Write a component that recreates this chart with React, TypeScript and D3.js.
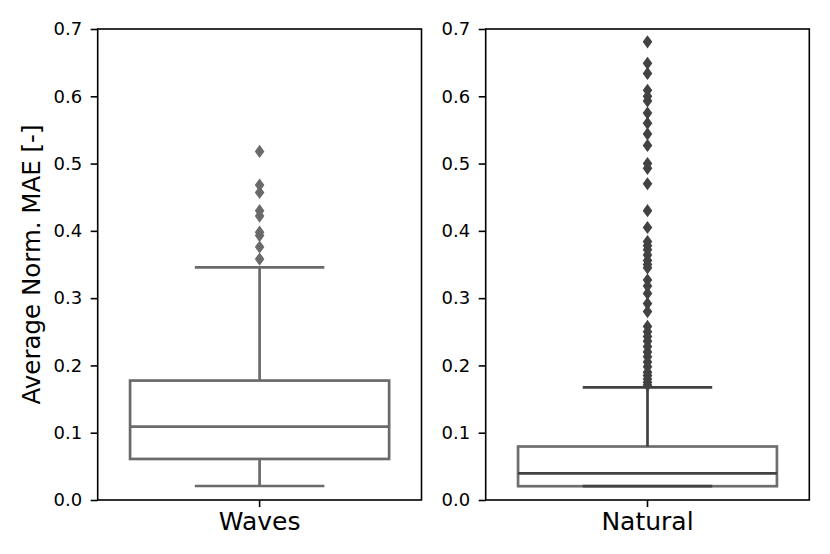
import React, { useEffect, useRef } from 'react';
import * as d3 from 'd3';

// Box statistics, one entry per panel
const categories = ['Waves', 'Natural'];
const q1 = [0.061, 0.0205];
const medians = [0.109, 0.0397];
const q3 = [0.1775, 0.0795];
const whiskerLow = [0.0208, 0.0205];
const whiskerHigh = [0.3457, 0.1675];

const wavesOutliers = [0.518, 0.468, 0.457, 0.430, 0.422, 0.398, 0.393, 0.376, 0.358];
const naturalOutliers = [
  0.681, 0.649, 0.634, 0.609, 0.600, 0.593, 0.575, 0.560, 0.544, 0.527,
  0.500, 0.493, 0.470, 0.430, 0.405, 0.384, 0.378, 0.372, 0.364, 0.356,
  0.350, 0.345, 0.327, 0.318, 0.307, 0.292, 0.280, 0.258, 0.250, 0.243,
  0.236, 0.228, 0.220, 0.213, 0.205, 0.198, 0.190, 0.185, 0.180, 0.175, 0.171,
];
const outliers = [wavesOutliers, naturalOutliers];

const yTicks = [0, 0.1, 0.2, 0.3, 0.4, 0.5, 0.6, 0.7];

// colours: Waves is mid grey, Natural darker (its box edge a bit lighter)
const lineColors = ['#6a6a6a', '#424242'];
const boxEdgeColors = ['#6a6a6a', '#6e6e6e'];

const W = 830;
const H = 554;
const FONT = '"DejaVu Sans", sans-serif';

const App: React.FC = () => {
  const svgRef = useRef<SVGSVGElement>(null);

  useEffect(() => {
    if (!svgRef.current) return;
    const svg = d3.select(svgRef.current);
    svg.selectAll('*').remove();

    const top = 29;
    const bottom = 500;
    const panels = [
      { left: 97.7, right: 421.5 },
      { left: 485.7, right: 809.3 },
    ];

    const y = d3.scaleLinear().domain([0, 0.7]).range([bottom, top]);

    // y label (only on the left panel)
    svg.append('text')
      .attr('transform', `translate(40,${(top + bottom) / 2}) rotate(-90)`)
      .attr('text-anchor', 'middle')
      .attr('font-family', FONT)
      .attr('font-size', 24.5)
      .attr('fill', '#000')
      .text('Average Norm. MAE [-]');

    panels.forEach((p, i) => {
      const g = svg.append('g');
      const x = d3.scaleBand().domain([categories[i]]).range([p.left, p.right]).padding(0);
      const cx = (x(categories[i]) as number) + x.bandwidth() / 2;
      const boxW = x.bandwidth() * 0.8;
      const capW = boxW / 2;
      const lc = lineColors[i];
      const lw = 2.7;

      // box
      g.append('rect')
        .attr('x', cx - boxW / 2)
        .attr('y', y(q3[i]))
        .attr('width', boxW)
        .attr('height', y(q1[i]) - y(q3[i]))
        .attr('fill', 'none')
        .attr('stroke', boxEdgeColors[i])
        .attr('stroke-width', lw);

      // whiskers
      g.append('line')
        .attr('x1', cx).attr('x2', cx)
        .attr('y1', y(q3[i])).attr('y2', y(whiskerHigh[i]))
        .attr('stroke', lc).attr('stroke-width', lw);
      g.append('line')
        .attr('x1', cx).attr('x2', cx)
        .attr('y1', y(q1[i])).attr('y2', y(whiskerLow[i]))
        .attr('stroke', lc).attr('stroke-width', lw);

      // caps
      [whiskerLow[i], whiskerHigh[i]].forEach(v => {
        g.append('line')
          .attr('x1', cx - capW / 2).attr('x2', cx + capW / 2)
          .attr('y1', y(v)).attr('y2', y(v))
          .attr('stroke', lc).attr('stroke-width', lw);
      });

      // median
      g.append('line')
        .attr('x1', cx - boxW / 2).attr('x2', cx + boxW / 2)
        .attr('y1', y(medians[i])).attr('y2', y(medians[i]))
        .attr('stroke', lc).attr('stroke-width', lw);

      // fliers (thin diamonds)
      const hw = 4.8;
      const hh = 6.6;
      g.selectAll('path.flier')
        .data(outliers[i])
        .enter().append('path')
        .attr('class', 'flier')
        .attr('d', d => {
          const yy = y(d);
          return `M${cx},${yy - hh}L${cx + hw},${yy}L${cx},${yy + hh}L${cx - hw},${yy}Z`;
        })
        .attr('fill', lc);

      // frame
      g.append('rect')
        .attr('x', p.left).attr('y', top)
        .attr('width', p.right - p.left).attr('height', bottom - top)
        .attr('fill', 'none').attr('stroke', '#000').attr('stroke-width', 1.6);

      // y axis
      const yAxis = g.append('g')
        .attr('transform', `translate(${p.left},0)`)
        .call(d3.axisLeft(y).tickValues(yTicks).tickFormat(d3.format('.1f')).tickSize(7).tickPadding(8.5));
      yAxis.select('.domain').remove();
      yAxis.selectAll('.tick line').attr('stroke', '#000').attr('stroke-width', 1.6);
      yAxis.selectAll('text')
        .attr('fill', '#000')
        .attr('font-family', FONT)
        .attr('font-size', 18);

      // x axis
      const xAxis = g.append('g')
        .attr('transform', `translate(0,${bottom})`)
        .call(d3.axisBottom(x).tickSize(7).tickPadding(5));
      xAxis.select('.domain').remove();
      xAxis.selectAll('.tick line').attr('stroke', '#000').attr('stroke-width', 1.6);
      xAxis.selectAll('text')
        .attr('fill', '#000')
        .attr('font-family', FONT)
        .attr('font-size', 25);
    });
  }, []);

  return (
    <div style={{ position: 'absolute', left: 0, top: 0, width: W, height: H, background: '#fff' }}>
      <svg ref={svgRef} width={W} height={H} style={{ display: 'block' }} />
    </div>
  );
};

export default App;
